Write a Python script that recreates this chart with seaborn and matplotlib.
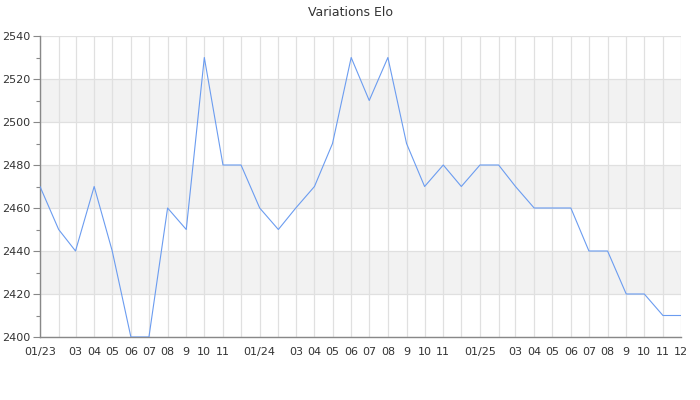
import pandas as pd
import seaborn as sns
import matplotlib.pyplot as plt
from matplotlib.ticker import MultipleLocator

# monthly Elo values, Jan 2023 -> Dec 2025
mois = pd.date_range('2023-01-01', '2025-12-01', freq='MS')
elo = [2470, 2450, 2440, 2470, 2440, 2400, 2400, 2460, 2450, 2530, 2480, 2480,
       2460, 2450, 2460, 2470, 2490, 2530, 2510, 2530, 2490, 2470, 2480, 2470,
       2480, 2480, 2470, 2460, 2460, 2460, 2440, 2440, 2420, 2420, 2410, 2410]
etiquettes = ['01/23', '', '03', '04', '05', '06', '07', '08', '9', '10', '11', '',
              '01/24', '', '03', '04', '05', '06', '07', '08', '9', '10', '11', '',
              '01/25', '', '03', '04', '05', '06', '07', '08', '9', '10', '11', '12']

df = pd.DataFrame({'Mois': mois, 'Elo': elo})

sns.set_theme(style="white")
plt.rcParams['font.family'] = ['DejaVu Sans']
fig = plt.figure(figsize=(7, 4), dpi=100)
ax = fig.add_axes([40 / 700, 1 - 337 / 400, 641 / 700, 301 / 400])

# bandes alternees
for bas in [2420, 2460, 2500]:
    ax.axhspan(bas, bas + 20, color='#f2f2f2', zorder=0, lw=0)

sns.lineplot(data=df, x='Mois', y='Elo', color='#6b9cf0', linewidth=0.8, ax=ax, zorder=3)

ax.set_xlim(mois[0], mois[-1])
ax.set_ylim(2400, 2540)
ax.set_xticks(mois)
ax.set_xticklabels(etiquettes)
ax.yaxis.set_major_locator(MultipleLocator(20))
ax.yaxis.set_minor_locator(MultipleLocator(10))

ax.grid(True, which='major', color='#e0e0e0', linewidth=0.9, zorder=1)
ax.set_axisbelow(True)

for cote in ['top', 'right']:
    ax.spines[cote].set_visible(False)
for cote in ['left', 'bottom']:
    ax.spines[cote].set_color('#888888')
    ax.spines[cote].set_linewidth(1)

ax.tick_params(axis='x', length=0, pad=7, labelsize=8, colors='#333333')
ax.tick_params(axis='y', which='major', length=5, width=0.8, color='#888888', left=True,
               labelsize=8, labelcolor='#333333', pad=2)
ax.tick_params(axis='y', which='minor', length=3, width=0.8, color='#888888', left=True)

ax.set_xlabel('')
ax.set_ylabel('')
fig.suptitle('Variations Elo', y=0.985, fontsize=9, color='#333333')

plt.savefig('out.png', dpi=100)
